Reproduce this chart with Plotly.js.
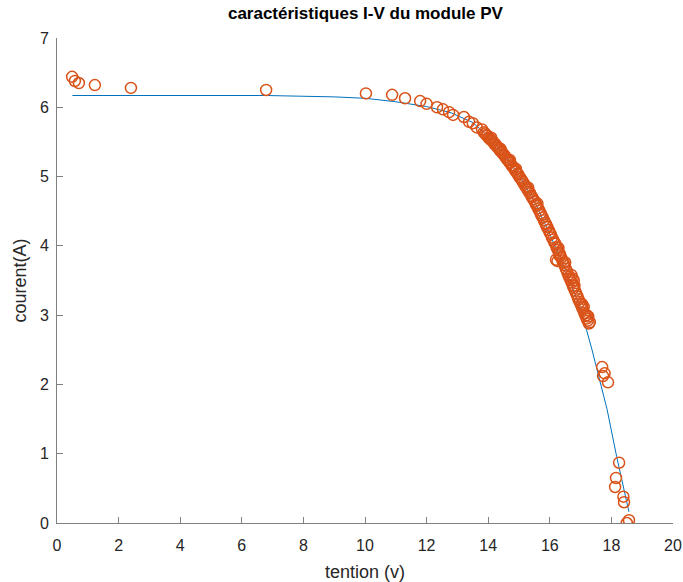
<!DOCTYPE html>
<html>
<head>
<meta charset="utf-8">
<script src="https://cdn.plot.ly/plotly-3.0.1.min.js"></script>
<style>html,body{margin:0;padding:0;background:#fff;}#chart{width:683px;height:582px;}</style>
</head>
<body>
<div id="chart"></div>
<script>
// Measured points (tension V, courant A)
var measX = [0.49, 0.58, 0.71, 1.23, 2.40, 6.79, 10.03, 10.88, 11.30, 11.79, 12.00, 12.34, 12.53, 12.73, 12.86, 13.21, 13.38, 13.50, 13.63, 13.80,
  13.86, 13.90, 13.94, 13.97, 14.01, 14.05, 14.08, 14.12, 14.16, 14.20, 14.23, 14.27, 14.31, 14.35, 14.38, 14.42, 14.46, 14.50, 14.53, 14.57,
  14.61, 14.65, 14.68, 14.72, 14.76, 14.80, 14.83, 14.87, 14.91, 14.95, 14.98, 15.02, 15.06, 15.10, 15.13, 15.17, 15.21, 15.25, 15.28, 15.32,
  15.36, 15.40, 15.43, 15.47, 15.51, 15.55, 15.58, 15.62, 15.66, 15.70, 15.73, 15.77, 15.81, 15.85, 15.88, 15.92, 15.96, 16.00, 16.03, 16.07,
  16.11, 16.15, 16.18, 16.22, 16.26, 16.30, 16.33, 16.37, 16.41, 16.45, 16.48, 16.52, 16.56, 16.60, 16.63, 16.67, 16.71, 16.75, 16.78, 16.82,
  16.86, 16.90, 16.93, 16.97, 17.01, 17.05, 17.08, 17.12, 17.16, 17.20, 17.23, 17.27,
  16.20, 16.25, 16.70, 16.78, 17.20, 17.25, 17.30,
  14.10, 14.40, 14.70, 14.90, 15.30, 15.60, 15.90, 16.28, 16.31, 16.50, 16.74, 16.80, 17.05, 17.10,
  17.70, 17.78, 17.73, 17.89, 18.25, 18.15, 18.12, 18.39, 18.41, 18.50, 18.57];
var measY = [6.44, 6.38, 6.35, 6.32, 6.28, 6.25, 6.20, 6.18, 6.13, 6.09, 6.05, 6.00, 5.97, 5.93, 5.89, 5.86, 5.79, 5.77, 5.71, 5.68,
  5.64, 5.62, 5.60, 5.59, 5.56, 5.55, 5.53, 5.52, 5.50, 5.47, 5.47, 5.44, 5.42, 5.40, 5.38, 5.36, 5.34, 5.32, 5.30, 5.28,
  5.25, 5.24, 5.21, 5.20, 5.16, 5.14, 5.13, 5.09, 5.07, 5.04, 5.03, 4.99, 4.97, 4.94, 4.92, 4.89, 4.86, 4.84, 4.81, 4.78,
  4.76, 4.72, 4.70, 4.67, 4.64, 4.60, 4.58, 4.54, 4.51, 4.47, 4.44, 4.41, 4.37, 4.33, 4.31, 4.27, 4.23, 4.19, 4.17, 4.12,
  4.09, 4.05, 4.03, 3.98, 3.94, 3.90, 3.88, 3.83, 3.79, 3.75, 3.72, 3.67, 3.63, 3.58, 3.55, 3.51, 3.47, 3.42, 3.39, 3.35,
  3.31, 3.27, 3.23, 3.19, 3.15, 3.11, 3.08, 3.03, 2.99, 2.95, 2.92, 2.88,
  3.80, 3.78, 3.58, 3.50, 3.00, 2.98, 2.90,
  5.56, 5.40, 5.24, 5.11, 4.84, 4.61, 4.28, 3.97, 3.86, 3.76, 3.53, 3.42, 3.16, 3.12,
  2.25, 2.16, 2.12, 2.03, 0.87, 0.65, 0.52, 0.38, 0.30, 0.00, 0.04];

// Fitted model curve
var fitX = [0.5, 6.8, 9.0, 10.0, 11.0, 12.0, 12.8, 13.5, 14.0, 14.5, 15.0, 15.5, 16.0, 16.5, 17.0, 17.21, 17.37, 17.86, 18.05, 18.17, 18.57];
var fitY = [6.17, 6.17, 6.15, 6.13, 6.08, 6.01, 5.92, 5.78, 5.58, 5.33, 5.02, 4.64, 4.17, 3.66, 3.10, 2.78, 2.50, 1.64, 1.22, 0.96, 0.16];

var xTicks = [0, 2, 4, 6, 8, 10, 12, 14, 16, 18, 20];
var yTicks = [0, 1, 2, 3, 4, 5, 6, 7];

var traces = [
  {x: fitX, y: fitY, mode: 'lines', type: 'scatter', line: {color: '#0072BD', width: 1}, hoverinfo: 'skip'},
  {x: measX, y: measY, mode: 'markers', type: 'scatter',
   marker: {symbol: 'circle-open', size: 11, color: '#D95319', line: {width: 1.5, color: '#D95319'}}}
];

var axisCommon = {
  showgrid: false, zeroline: false, showline: true, linecolor: '#808080', linewidth: 1,
  ticks: 'inside', ticklen: 6, tickcolor: '#808080', tickwidth: 1,
  tickfont: {family: 'Liberation Sans, Arial, sans-serif', size: 16, color: '#262626'},
  mirror: false
};

var layout = {
  width: 683, height: 582,
  margin: {l: 57, r: 10, t: 38, b: 59},
  paper_bgcolor: '#ffffff', plot_bgcolor: '#ffffff',
  showlegend: false,
  title: {text: '<b>caractéristiques I-V du module PV</b>', x: 0.535, xanchor: 'center', y: 0.978, yanchor: 'middle',
          font: {family: 'Liberation Sans, Arial, sans-serif', size: 17, color: '#000000'}},
  xaxis: Object.assign({}, axisCommon, {range: [0, 20], tickvals: xTicks, ticktext: xTicks.map(String), ticklabelstandoff: 8,
    title: {text: 'tention (v)', standoff: 12, font: {family: 'Liberation Sans, Arial, sans-serif', size: 18, color: '#262626'}}}),
  yaxis: Object.assign({}, axisCommon, {range: [0, 7], tickvals: yTicks, ticktext: yTicks.map(String), ticklabelstandoff: 4,
    title: {text: 'courent(A)', standoff: 8, font: {family: 'Liberation Sans, Arial, sans-serif', size: 18, color: '#262626'}}})
};

Plotly.newPlot('chart', traces, layout, {displayModeBar: false, staticPlot: true});
</script>
</body>
</html>
